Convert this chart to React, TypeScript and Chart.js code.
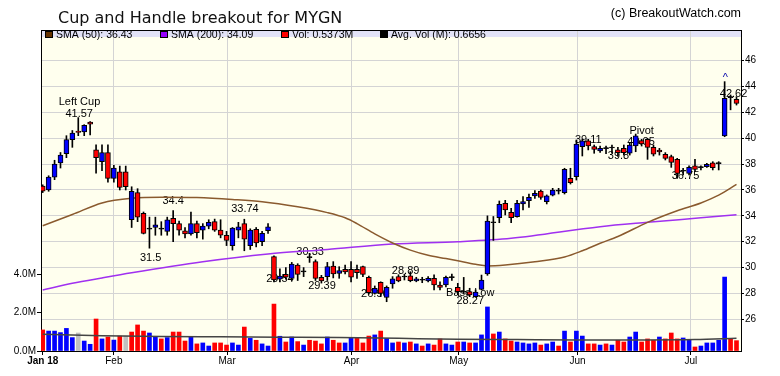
import React, { useEffect, useRef } from "react";
import { Chart, registerables } from "chart.js";

Chart.register(...registerables);

// ---------- text ----------
const TITLE = "Cup and Handle breakout for MYGN";
const SOURCE = "(c) BreakoutWatch.com";

// ---------- axes ----------
const monthPositions = [0, 12, 31.1, 52.1, 70.15, 90.2, 109.3];
const monthLabels = ["Jan 18", "Feb", "Mar", "Apr", "May", "Jun", "Jul"];
const priceTicks = [26, 28, 30, 32, 34, 36, 38, 40, 42, 44, 46];
const volumeTicks = [0, 2, 4];

// ---------- daily candles (trading-day index 0..117) ----------
const opens = [
  36.3, 36.0, 37.0, 38.1, 38.8, 39.9, 40.55, 40.5, 41.25, 39.1,
  38.2, 38.9, 36.9, 37.4, 37.4, 33.7, 35.8, 34.2, 33.0, 33.1,
  33.0, 32.8, 33.8, 33.4, 32.85, 32.6, 33.4, 32.9, 33.2, 33.55,
  32.9, 32.5, 31.7, 32.9, 33.4, 31.7, 32.95, 32.0, 32.85, 30.85,
  29.1, 29.48, 29.17, 30.2, 29.7, 30.8, 30.46, 29.24, 29.3, 30.12,
  29.55, 29.86, 29.86, 29.86, 30.07, 29.24, 28.0, 28.86, 27.7, 28.73,
  29.3, 29.3, 29.37, 28.96, 29.05, 28.96, 29.17, 28.65, 28.65, 29.25,
  28.47, 28.14, 28.14, 27.75, 28.32, 29.5, 33.5, 33.86, 34.97, 34.27,
  33.94, 34.92, 35.17, 35.54, 35.92, 35.1, 35.6, 35.93, 35.8, 36.9,
  37.03, 39.35, 39.8, 39.35, 39.02, 39.22, 39.27, 39.1, 39.22, 38.84,
  39.4, 39.82, 39.92, 39.3, 39.09, 38.76, 38.58, 38.37, 37.47, 37.29,
  37.86, 37.75, 37.8, 38.11, 38.06, 40.18, 43.17, 43.01,
];
const highs = [
  36.4, 37.1, 38.3, 38.9, 40.2, 40.6, 41.6, 41.05, 41.3, 39.5,
  39.5, 39.5, 37.9, 37.85, 37.85, 36.25, 36.1, 34.3, 33.9, 33.9,
  33.55, 33.9, 34.4, 33.6, 33.1, 34.3, 33.6, 33.4, 33.7, 33.75,
  33.7, 32.8, 33.1, 33.5, 33.74, 33.0, 33.1, 32.8, 33.4, 30.9,
  29.9, 30.0, 30.4, 30.3, 30.0, 31.1, 30.6, 29.4, 30.4, 30.46,
  30.07, 30.2, 30.46, 30.2, 30.12, 29.35, 28.58, 28.9, 28.58, 29.3,
  29.45, 29.5, 29.68, 29.25, 29.25, 29.3, 29.43, 28.9, 29.35, 29.5,
  28.78, 29.24, 28.4, 28.27, 29.42, 34.0, 33.95, 35.15, 35.2, 34.58,
  35.2, 35.5, 35.69, 35.95, 36.0, 35.62, 36.13, 36.13, 37.68, 37.68,
  39.87, 39.92, 39.92, 39.48, 39.4, 39.4, 39.48, 39.3, 39.48, 39.66,
  40.33, 39.92, 40.0, 39.48, 39.22, 38.89, 38.7, 38.45, 37.67, 37.86,
  38.37, 37.86, 38.06, 38.19, 38.19, 44.38, 43.35, 43.22,
];
const lows = [
  35.8, 35.9, 36.8, 37.7, 38.5, 39.3, 40.2, 40.2, 40.25, 37.3,
  37.5, 36.6, 36.6, 36.0, 36.0, 33.1, 33.55, 32.6, 31.5, 32.5,
  32.5, 32.5, 32.0, 32.5, 32.3, 32.5, 32.3, 32.2, 33.0, 32.8,
  32.3, 31.7, 31.35, 32.3, 31.3, 31.4, 31.6, 31.7, 32.65, 28.9,
  28.9, 29.1, 29.0, 29.0, 29.3, 30.4, 29.0, 28.8, 29.0, 29.2,
  29.17, 29.5, 28.9, 29.17, 29.3, 27.95, 27.95, 27.75, 27.36, 28.4,
  28.9, 29.04, 28.9, 28.9, 28.83, 28.9, 28.27, 28.27, 28.5, 29.0,
  27.9, 28.0, 27.75, 27.7, 28.27, 29.4, 32.1, 33.47, 34.07, 33.47,
  33.9, 34.45, 34.66, 35.35, 35.28, 34.92, 35.54, 35.69, 35.69, 36.46,
  36.77, 38.63, 39.1, 38.84, 38.9, 38.8, 38.84, 38.6, 38.7, 38.7,
  38.96, 39.4, 38.37, 38.63, 38.7, 38.32, 37.75, 36.9, 37.16, 37.16,
  37.42, 37.55, 37.75, 37.55, 37.55, 40.12, 42.2, 42.57,
];
const closes = [
  35.9, 37.0, 38.0, 38.7, 39.9, 40.4, 40.45, 41.0, 41.1, 38.5,
  38.9, 36.9, 37.7, 36.2, 36.25, 35.9, 33.9, 32.65, 32.97, 33.3,
  32.97, 33.7, 33.4, 32.9, 32.6, 33.4, 32.7, 33.2, 33.5, 32.9,
  32.5, 32.1, 33.05, 33.15, 32.2, 32.9, 31.9, 32.65, 33.15, 29.05,
  29.35, 29.25, 30.27, 29.48, 29.67, 30.77, 29.17, 28.96, 30.07, 29.5,
  29.76, 29.66, 29.25, 29.6, 29.48, 28.06, 28.4, 28.0, 28.47, 29.12,
  28.96, 29.27, 28.99, 29.12, 29.02, 29.17, 28.65, 28.47, 29.24, 29.22,
  28.14, 28.11, 27.88, 28.1, 29.04, 33.6, 33.47, 34.89, 34.45, 33.86,
  34.97, 35.1, 35.43, 35.74, 35.43, 35.54, 36.0, 35.91, 37.6, 36.57,
  39.56, 39.8, 39.4, 39.14, 39.22, 39.2, 39.25, 38.89, 38.89, 39.48,
  40.18, 39.56, 39.3, 38.78, 38.94, 38.45, 38.14, 37.29, 37.45, 37.75,
  37.6, 37.73, 37.98, 37.73, 38.04, 43.09, 43.15, 42.7,
];

// ---------- volume (millions) and its up/down/flat colouring ----------
const volumes = [
  1.10, 1.04, 1.04, 0.96, 1.18, 0.70, 0.94, 0.52, 0.35, 1.67,
  0.63, 0.73, 0.57, 0.78, 0.78, 0.99, 1.36, 1.04, 0.94, 0.73,
  0.63, 0.70, 0.99, 0.99, 0.52, 0.73, 0.37, 0.42, 0.26, 0.42,
  0.42, 0.31, 0.42, 0.31, 1.25, 0.66, 0.56, 0.37, 0.26, 2.45,
  0.77, 0.47, 0.73, 0.49, 0.31, 0.56, 0.52, 0.37, 0.73, 0.56,
  0.42, 0.42, 0.66, 0.66, 0.42, 0.78, 0.84, 1.04, 0.66, 0.42,
  0.47, 0.42, 0.47, 0.37, 0.26, 0.37, 0.31, 0.63, 0.37, 0.31,
  0.47, 0.47, 0.42, 0.42, 0.84, 2.30, 0.89, 0.99, 0.63, 0.52,
  0.47, 0.42, 0.37, 0.42, 0.31, 0.37, 0.47, 0.26, 1.04, 0.47,
  1.04, 0.78, 0.37, 0.37, 0.31, 0.37, 0.31, 0.56, 0.47, 0.73,
  0.99, 0.47, 0.63, 0.56, 0.73, 0.63, 0.94, 0.63, 0.68, 0.56,
  0.21, 0.26, 0.42, 0.42, 0.56, 3.86, 0.66, 0.54,
];
const volumeDirection =
  "rbbbbbgbbr" + "brbrgrrrbb" + "rbrrrbrbbr" + "rrbbrbrbbr" +
  "brbrbrrrbr" + "rbbrrrbrbb" + "rbrbrbrrbb" + "rbrbbbrbrr" +
  "bbbbrbbrbr" + "bbrrbrbrrb" + "brrrbrrrbb" + "rbbbbbrr";

// ---------- moving averages: [trading-day index, value] ----------
const sma50Points = [
  [0, 33.24], [5, 34.1], [10, 35.0], [15, 35.36], [20, 35.44], [26, 35.41],
  [32, 35.27], [37, 35.1], [43, 34.7], [48, 34.25], [51, 33.85], [53, 33.4],
  [56, 32.6], [59, 31.9], [62, 31.35], [65, 30.95], [68, 30.7], [70, 30.52],
  [73, 30.25], [75, 30.13], [78, 30.2], [83, 30.45], [88, 30.82], [91, 31.3],
  [94, 31.88], [97, 32.4], [102, 33.5], [107, 34.4], [111, 35.0], [114, 35.6],
  [117, 36.43],
];
const sma200Points = [
  [0, 28.27], [5, 28.78], [10, 29.2], [15, 29.6], [27, 30.45], [38, 31.05],
  [48, 31.4], [59, 31.82], [70, 32.0], [79, 32.26], [94, 33.16], [102, 33.5],
  [111, 33.85], [117, 34.09],
];
const avgVolumePoints = [
  [0, 0.87], [10, 0.8], [20, 0.76], [30, 0.74], [40, 0.72], [50, 0.7],
  [60, 0.66], [70, 0.62], [80, 0.6], [90, 0.58], [100, 0.58], [110, 0.6],
  [117, 0.67],
];

// ---------- legend ----------
const legendLabels = ["SMA (50): 36.43", "SMA (200): 34.09", "Vol: 0.5373M", "Avg. Vol (M): 0.6656"];
const legendColors = ["#663300", "#9900FF", "#FF0000", "#000000"];

// ---------- chart annotations: text, trading-day index, price level ----------
const noteTexts = [
  "Left Cup", "41.57", "34.4", "31.5", "33.74", "30.33", "29.54", "29.39",
  "28.89", "26.96", "Base Low", "28.27", "39.11", "Pivot", "40.05", "39.8",
  "36.75", "42.62", "^",
];
const noteIndex = [
  6.2, 6.15, 22.0, 18.2, 34.1, 45.1, 40.0, 47.1,
  61.2, 56.0, 72.1, 72.1, 92.0, 101.0, 100.9, 97.1,
  108.4, 116.5, 115.1,
];
const notePrice = [
  42.77, 41.88, 35.16, 30.78, 34.52, 31.17, 29.1, 28.6,
  29.7, 27.94, 28.07, 27.4, 39.9, 40.54, 39.7, 38.6,
  37.05, 43.4, 44.7,
];

const SANS = '"Liberation Sans", Arial, sans-serif';
const GRID = "#D4D4D4";

export default function App() {
  const ref = useRef<HTMLCanvasElement | null>(null);

  useEffect(() => {
    document.body.style.margin = "0";
    const canvas = ref.current;
    if (!canvas) return;

    const idx = opens.map((_, i) => i);
    const isDoji = (i: number) => Math.abs(opens[i] - closes[i]) < 0.05;
    const bodyColors = idx.map((i) =>
      isDoji(i) ? "#000000" : closes[i] > opens[i] ? "#0000FF" : "#FF0000"
    );
    const volColors = idx.map((i) => {
      const d = volumeDirection[i];
      return d === "b" ? "#0000FF" : d === "r" ? "#FF0000" : "#C0C0C0";
    });

    const backgroundPlugin = {
      id: "bg",
      beforeDraw(chart: any) {
        const { ctx, chartArea: a } = chart;
        ctx.save();
        ctx.fillStyle = "#FFFFFF";
        ctx.fillRect(0, 0, chart.width, chart.height);
        ctx.fillStyle = "#FFFFEE";
        ctx.fillRect(a.left, a.top, a.right - a.left, a.bottom - a.top);
        ctx.fillStyle = "#E2E2F6";
        ctx.fillRect(a.left, a.top, a.right - a.left, 7);
        ctx.restore();
      },
    };

    const notesPlugin = {
      id: "notes",
      beforeDatasetsDraw(chart: any) {
        const { ctx } = chart;
        const xs = chart.scales.x;
        const ys = chart.scales.price;
        ctx.save();
        ctx.font = `11px ${SANS}`;
        ctx.textAlign = "center";
        ctx.textBaseline = "middle";
        noteTexts.forEach((t, k) => {
          ctx.fillStyle = t === "^" ? "#0000AA" : "#000000";
          ctx.fillText(t, xs.getPixelForValue(noteIndex[k]), ys.getPixelForValue(notePrice[k]));
        });
        ctx.restore();
      },
    };

    const framePlugin = {
      id: "frame",
      afterDraw(chart: any) {
        const { ctx, chartArea: a } = chart;
        ctx.save();
        // top border
        ctx.strokeStyle = "#000000";
        ctx.lineWidth = 1;
        ctx.beginPath();
        ctx.moveTo(a.left, a.top + 0.5);
        ctx.lineTo(a.right, a.top + 0.5);
        ctx.stroke();
        // title
        ctx.fillStyle = "#111111";
        ctx.font = '16px "DejaVu Sans", sans-serif';
        ctx.textAlign = "left";
        ctx.textBaseline = "alphabetic";
        ctx.fillText(TITLE, 58, 23);
        // source
        ctx.font = `12.5px ${SANS}`;
        ctx.textAlign = "right";
        ctx.fillStyle = "#000000";
        ctx.fillText(SOURCE, a.right, 17);
        // legend
        const lx = [45, 160, 281, 380];
        ctx.font = `10.5px ${SANS}`;
        ctx.textAlign = "left";
        ctx.textBaseline = "middle";
        legendLabels.forEach((lab, k) => {
          ctx.fillStyle = legendColors[k];
          ctx.fillRect(lx[k], a.top + 1.5, 7, 6);
          ctx.strokeStyle = "#000000";
          ctx.strokeRect(lx[k] + 0.5, a.top + 1.5, 7, 6);
          ctx.fillStyle = "#000000";
          ctx.fillText(lab, lx[k] + 11, a.top + 5);
        });
        ctx.restore();
      },
    };

    const chart = new Chart(canvas, {
      type: "bar",
      data: {
        datasets: [
          {
            type: "bar",
            label: "body",
            data: idx.map((i) => ({ x: i, y: [opens[i], closes[i]] })) as any,
            xAxisID: "x",
            yAxisID: "price",
            backgroundColor: bodyColors,
            borderColor: "#000000",
            borderWidth: 1,
            borderSkipped: false,
            barThickness: 5,
            minBarLength: 1,
            grouped: false,
            order: 0,
          } as any,
          {
            type: "bar",
            label: "wick",
            data: idx.map((i) => ({ x: i, y: [lows[i], highs[i]] })) as any,
            xAxisID: "x",
            yAxisID: "price",
            backgroundColor: "#000000",
            borderWidth: 0,
            barThickness: 1,
            grouped: false,
            order: 1,
          } as any,
          {
            type: "line",
            label: "SMA50",
            data: sma50Points.map(([x, y]) => ({ x, y })),
            xAxisID: "x",
            yAxisID: "price",
            borderColor: "#8A5A2E",
            borderWidth: 1.5,
            pointRadius: 0,
            cubicInterpolationMode: "monotone",
            order: 2,
          } as any,
          {
            type: "line",
            label: "SMA200",
            data: sma200Points.map(([x, y]) => ({ x, y })),
            xAxisID: "x",
            yAxisID: "price",
            borderColor: "#A030F0",
            borderWidth: 1.5,
            pointRadius: 0,
            cubicInterpolationMode: "monotone",
            order: 2,
          } as any,
          {
            type: "line",
            label: "AvgVol",
            data: avgVolumePoints.map(([x, y]) => ({ x, y })),
            xAxisID: "x",
            yAxisID: "vol",
            borderColor: "#444444",
            borderWidth: 1.5,
            pointRadius: 0,
            cubicInterpolationMode: "monotone",
            order: 3,
          } as any,
          {
            type: "bar",
            label: "Volume",
            data: idx.map((i) => ({ x: i, y: volumes[i] })) as any,
            xAxisID: "x",
            yAxisID: "vol",
            backgroundColor: volColors,
            borderWidth: 0,
            barThickness: 4,
            grouped: false,
            order: 4,
          } as any,
        ],
      },
      options: {
        responsive: false,
        animation: false,
        devicePixelRatio: 1,
        layout: { padding: { top: 30, left: 0, right: 0, bottom: 0 } },
        plugins: {
          legend: { display: false },
          title: { display: false },
          tooltip: { enabled: false },
        },
        scales: {
          x: {
            type: "linear",
            min: -0.287,
            max: 117.76,
            offset: false,
            afterBuildTicks: (s: any) => {
              s.ticks = monthPositions.map((v) => ({ value: v }));
            },
            afterFit: (s: any) => {
              s.height = 25;
            },
            ticks: {
              autoSkip: false,
              maxRotation: 0,
              padding: 0,
              color: "#000000",
              font: (c: any) => ({ family: SANS, size: 10, weight: c.index === 0 ? "bold" : "normal" }),
              callback: (_v: any, i: number) => monthLabels[i],
            },
            grid: {
              offset: false,
              color: (c: any) => (c.index === 0 ? "rgba(0,0,0,0)" : GRID),
              tickColor: "#000000",
              tickLength: 4,
            },
            border: { color: "#000000" },
          } as any,
          price: {
            type: "linear",
            position: "right",
            min: 23.548,
            max: 48.374,
            afterBuildTicks: (s: any) => {
              s.ticks = priceTicks.map((v) => ({ value: v }));
            },
            afterFit: (s: any) => {
              s.width = 39;
            },
            ticks: {
              padding: 1,
              color: "#000000",
              font: { family: SANS, size: 10 },
              callback: (v: any) => String(v),
            },
            grid: { color: GRID, tickColor: "#000000", tickLength: 3 },
            border: { color: "#000000" },
          } as any,
          vol: {
            type: "linear",
            position: "left",
            min: 0,
            max: 16.76,
            afterBuildTicks: (s: any) => {
              s.ticks = volumeTicks.map((v) => ({ value: v }));
            },
            afterFit: (s: any) => {
              s.width = 41;
            },
            ticks: {
              padding: 1,
              color: "#000000",
              font: { family: SANS, size: 10 },
              callback: (v: any) => Number(v).toFixed(1) + "M",
            },
            grid: { drawOnChartArea: false, tickColor: "#000000", tickLength: 4 },
            border: { color: "#000000" },
          } as any,
        },
      } as any,
      plugins: [backgroundPlugin, notesPlugin, framePlugin],
    });

    return () => chart.destroy();
  }, []);

  return (
    <div style={{ position: "absolute", left: 0, top: 0, width: 780, height: 376 }}>
      <canvas ref={ref} width={780} height={376} style={{ width: 780, height: 376, display: "block" }} />
    </div>
  );
}
